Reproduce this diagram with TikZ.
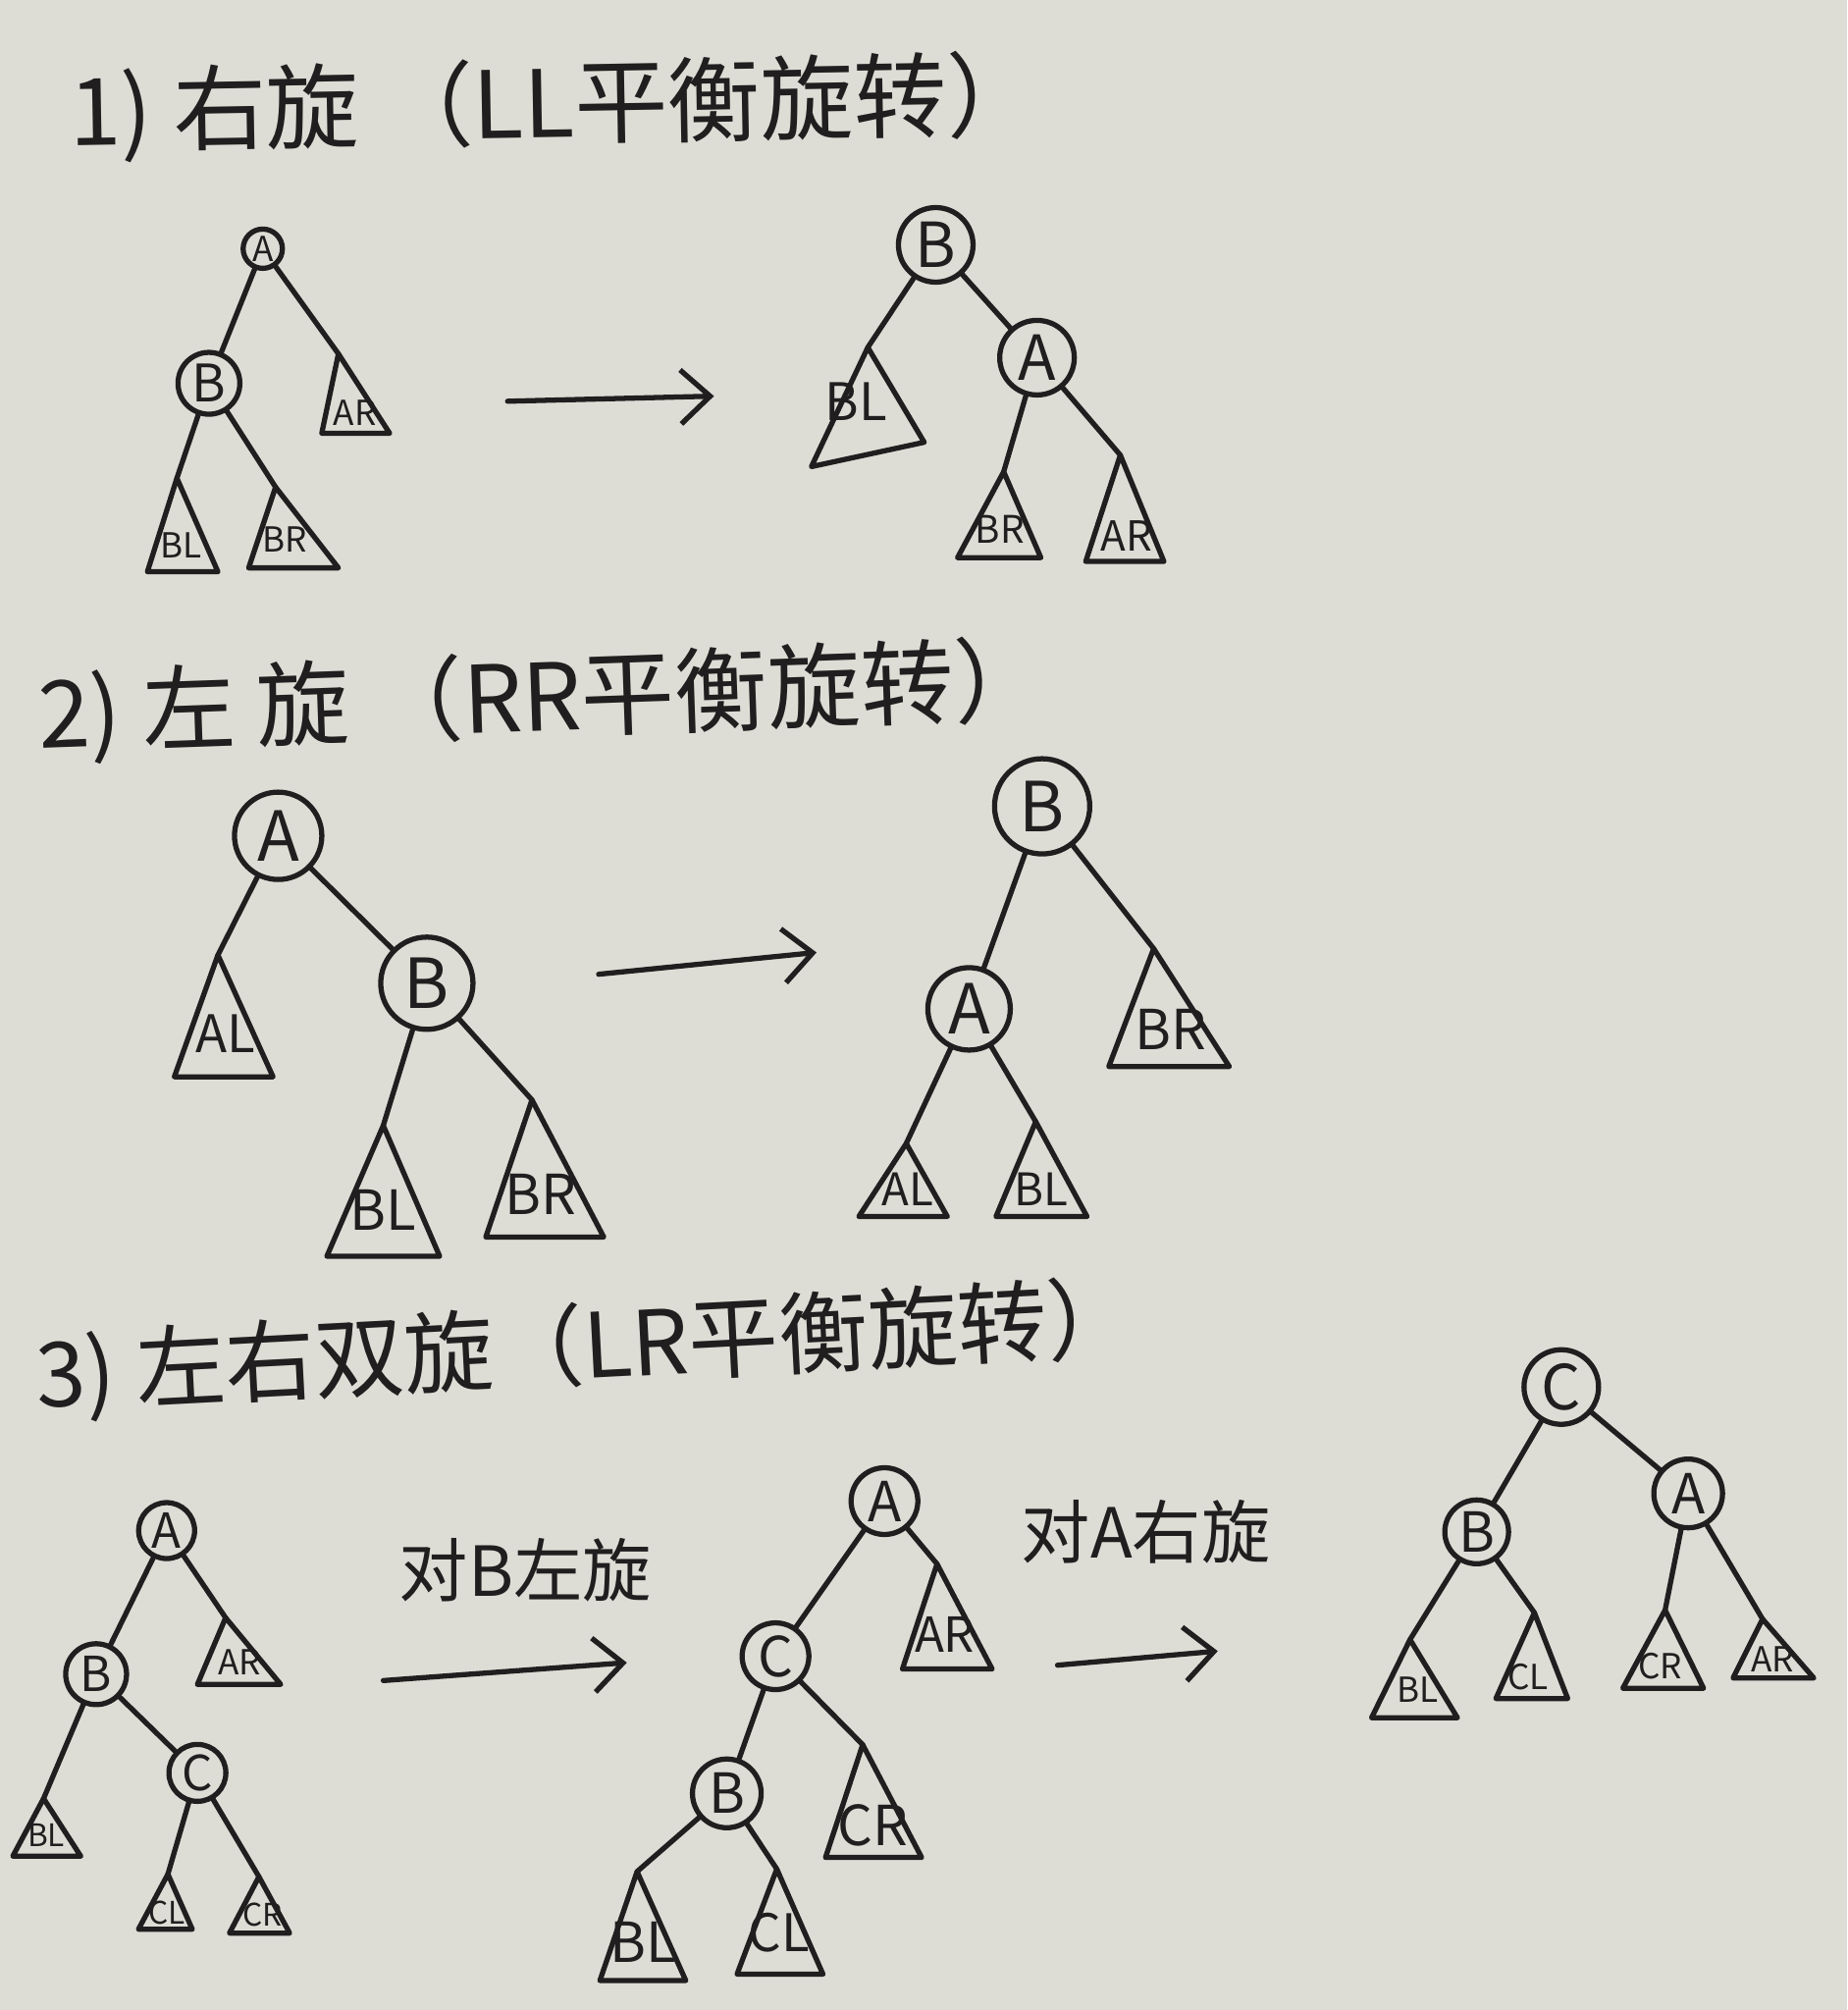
\documentclass[tikz,border=0pt]{standalone}
\usepackage{fontspec}
\newfontfamily\cjk{Noto Sans CJK SC}
\usetikzlibrary{arrows.meta}
\definecolor{paper}{RGB}{221,221,214}
\definecolor{ink}{RGB}{32,30,30}

\begin{document}
\begin{tikzpicture}[x=0.01306cm, y=-0.01306cm, line width=1.5pt, color=ink, font=\cjk,
  vtx/.style={circle, draw, inner sep=0pt, minimum size=#1, font=\cjk\fontsize{18}{18}\selectfont},
  vtx/.default=0.72cm,
  lbl/.style={inner sep=0pt, font=\cjk\fontsize{#1}{#1}\selectfont},
  lbl/.default=12,
  sub/.style={line join=round},
  edge/.style={line cap=round},
  arr/.style={line cap=round, -{Straight Barb[length=0.3cm, width=0.55cm]}},
  ttl/.style={anchor=west, inner sep=0pt, font=\cjk\fontsize{27}{27}\selectfont},
  note/.style={inner sep=0pt, font=\cjk\fontsize{20}{20}\selectfont}]

  % Paper
  \useasboundingbox (0,0) rectangle (1441,1568);
  \fill[paper] (0,0) rectangle (1441,1568);

  % Headings
  \node[ttl, rotate=1] (t1) at (52,90) {1)~右旋~（LL平衡旋转）};
  \node[ttl, rotate=2] (t2) at (28,560) {2)~左~旋~（RR平衡旋转）};
  \node[ttl, rotate=3, font=\cjk\fontsize{26}{26}\selectfont] (t3) at (26,1075) {3)~左右双旋（LR平衡旋转）};

  % ---- 1) before
  \node[vtx=0.4cm, font=\cjk\fontsize{10}{10}\selectfont] (aA) at (205,194) {A};
  \node[vtx=0.63cm, font=\cjk\fontsize{15}{15}\selectfont] (aB) at (163,299) {B};
  \coordinate (aAR) at (264,276);
  \coordinate (aBL) at (138,373);
  \coordinate (aBR) at (215,380);
  \draw[sub] (aAR) -- (251,338) -- (304,338) -- cycle;
  \draw[sub] (aBL) -- (115,446) -- (170,446) -- cycle;
  \draw[sub] (aBR) -- (194,443) -- (264,443) -- cycle;
  \node[lbl=10] (aARl) at (277,322) {AR};
  \node[lbl=10] (aBLl) at (141,425) {BL};
  \node[lbl=10] (aBRl) at (222,421) {BR};
  \draw[edge] (aA) -- (aB);
  \draw[edge] (aA) -- (aAR);
  \draw[edge] (aB) -- (aBL);
  \draw[edge] (aB) -- (aBR);

  % arrow
  \coordinate (p1) at (396,313);
  \coordinate (q1) at (557,309);
  \draw[arr] (p1) -- (q1);

  % ---- 1) after
  \node[vtx=0.76cm] (bB) at (730,191) {B};
  \node[vtx=0.76cm] (bA) at (809,279) {A};
  \coordinate (bBL) at (677,271);
  \coordinate (bBR) at (783,368);
  \coordinate (bAR) at (874,355);
  \draw[sub] (bBL) -- (633,364) -- (721,345) -- cycle;
  \draw[sub] (bBR) -- (747,435) -- (812,435) -- cycle;
  \draw[sub] (bAR) -- (847,438) -- (908,438) -- cycle;
  \node[lbl=15] (bBLl) at (668,313) {BL};
  \node[lbl=11] (bBRl) at (780,413) {BR};
  \node[lbl=12] (bARl) at (879,418) {AR};
  \draw[edge] (bB) -- (bBL);
  \draw[edge] (bB) -- (bA);
  \draw[edge] (bA) -- (bBR);
  \draw[edge] (bA) -- (bAR);

  % ---- 2) before
  \node[vtx=0.89cm, font=\cjk\fontsize{20}{20}\selectfont] (cA) at (217,652) {A};
  \node[vtx=0.94cm, font=\cjk\fontsize{20}{20}\selectfont] (cB) at (333,767) {B};
  \coordinate (cAL) at (170,745);
  \coordinate (cBL) at (299,878);
  \coordinate (cBR) at (415,858);
  \draw[sub] (cAL) -- (136,840) -- (213,840) -- cycle;
  \draw[sub] (cBL) -- (255,980) -- (343,980) -- cycle;
  \draw[sub] (cBR) -- (379,965) -- (471,965) -- cycle;
  \node[lbl=15] (cALl) at (176,806) {AL};
  \node[lbl=16] (cBLl) at (299,944) {BL};
  \node[lbl=16] (cBRl) at (422,932) {BR};
  \draw[edge] (cA) -- (cAL);
  \draw[edge] (cA) -- (cB);
  \draw[edge] (cB) -- (cBL);
  \draw[edge] (cB) -- (cBR);

  % arrow
  \coordinate (p2) at (467,760);
  \coordinate (q2) at (637,743);
  \draw[arr] (p2) -- (q2);

  % ---- 2) after
  \node[vtx=0.97cm, font=\cjk\fontsize{20}{20}\selectfont] (dB) at (813,629) {B};
  \node[vtx=0.84cm, font=\cjk\fontsize{20}{20}\selectfont] (dA) at (756,787) {A};
  \coordinate (dBR) at (900,740);
  \coordinate (dAL) at (707,892);
  \coordinate (dBL) at (808,875);
  \draw[sub] (dBR) -- (865,832) -- (959,832) -- cycle;
  \draw[sub] (dAL) -- (670,949) -- (739,949) -- cycle;
  \draw[sub] (dBL) -- (777,949) -- (848,949) -- cycle;
  \node[lbl=16] (dBRl) at (913,803) {BR};
  \node[lbl=13] (dALl) at (708,928) {AL};
  \node[lbl=13] (dBLl) at (812,928) {BL};
  \draw[edge] (dB) -- (dA);
  \draw[edge] (dB) -- (dBR);
  \draw[edge] (dA) -- (dAL);
  \draw[edge] (dA) -- (dBL);

  % ---- 3) start
  \node[vtx=0.57cm, font=\cjk\fontsize{14}{14}\selectfont] (eA) at (130,1194) {A};
  \node[vtx=0.62cm, font=\cjk\fontsize{14}{14}\selectfont] (eB) at (75,1306) {B};
  \node[vtx=0.58cm, font=\cjk\fontsize{14}{14}\selectfont] (eC) at (154,1383) {C};
  \coordinate (eAR) at (176,1262);
  \coordinate (eBL) at (34,1403);
  \coordinate (eCL) at (131,1462);
  \coordinate (eCR) at (202,1464);
  \draw[sub] (eAR) -- (154,1314) -- (219,1314) -- cycle;
  \draw[sub] (eBL) -- (10,1448) -- (63,1448) -- cycle;
  \draw[sub] (eCL) -- (108,1505) -- (150,1505) -- cycle;
  \draw[sub] (eCR) -- (179,1508) -- (226,1508) -- cycle;
  \node[lbl=10] (eARl) at (187,1297) {AR};
  \node[lbl=9] (eBLl) at (36,1432) {BL};
  \node[lbl=9] (eCLl) at (130,1492) {CL};
  \node[lbl=9] (eCRl) at (205,1494) {CR};
  \draw[edge] (eA) -- (eB);
  \draw[edge] (eA) -- (eAR);
  \draw[edge] (eB) -- (eBL);
  \draw[edge] (eB) -- (eC);
  \draw[edge] (eC) -- (eCL);
  \draw[edge] (eC) -- (eCR);

  % arrow
  \coordinate (p3) at (299,1311);
  \coordinate (q3) at (489,1297);
  \draw[arr] (p3) -- (q3);
  \node[note] (n3) at (410,1225) {对B左旋};

  % ---- 3) middle
  \node[vtx=0.68cm, font=\cjk\fontsize{16}{16}\selectfont] (fA) at (690,1171) {A};
  \node[vtx=0.68cm, font=\cjk\fontsize{16}{16}\selectfont] (fC) at (605,1292) {C};
  \node[vtx=0.7cm, font=\cjk\fontsize{16}{16}\selectfont] (fB) at (567,1399) {B};
  \coordinate (fAR) at (731,1220);
  \coordinate (fCR) at (673,1361);
  \coordinate (fBL) at (497,1460);
  \coordinate (fCL) at (606,1458);
  \draw[sub] (fAR) -- (704,1302) -- (774,1302) -- cycle;
  \draw[sub] (fCR) -- (644,1449) -- (719,1449) -- cycle;
  \draw[sub] (fBL) -- (468,1545) -- (535,1545) -- cycle;
  \draw[sub] (fCL) -- (575,1540) -- (642,1540) -- cycle;
  \node[lbl=14] (fARl) at (737,1275) {AR};
  \node[lbl=16] (fCRl) at (681,1424) {CR};
  \node[lbl=16] (fBLl) at (502,1515) {BL};
  \node[lbl=15] (fCLl) at (608,1508) {CL};
  \draw[edge] (fA) -- (fC);
  \draw[edge] (fA) -- (fAR);
  \draw[edge] (fC) -- (fB);
  \draw[edge] (fC) -- (fCR);
  \draw[edge] (fB) -- (fBL);
  \draw[edge] (fB) -- (fCL);

  % arrow
  \coordinate (p4) at (825,1299);
  \coordinate (q4) at (950,1288);
  \draw[arr] (p4) -- (q4);
  \node[note] (n4) at (894,1195) {对A右旋};

  % ---- 3) end
  \node[vtx=0.76cm] (gC) at (1218,1082) {C};
  \node[vtx=0.65cm, font=\cjk\fontsize{16}{16}\selectfont] (gB) at (1152,1195) {B};
  \node[vtx=0.7cm, font=\cjk\fontsize{16}{16}\selectfont] (gA) at (1317,1165) {A};
  \coordinate (gBL) at (1100,1279);
  \coordinate (gCL) at (1197,1258);
  \coordinate (gCR) at (1299,1256);
  \coordinate (gAR) at (1375,1263);
  \draw[sub] (gBL) -- (1070,1340) -- (1137,1340) -- cycle;
  \draw[sub] (gCL) -- (1167,1325) -- (1223,1325) -- cycle;
  \draw[sub] (gCR) -- (1266,1317) -- (1329,1317) -- cycle;
  \draw[sub] (gAR) -- (1352,1309) -- (1415,1309) -- cycle;
  \node[lbl=10] (gBLl) at (1106,1318) {BL};
  \node[lbl=10] (gCLl) at (1192,1308) {CL};
  \node[lbl=10] (gCRl) at (1295,1300) {CR};
  \node[lbl=10] (gARl) at (1383,1294) {AR};
  \draw[edge] (gC) -- (gB);
  \draw[edge] (gC) -- (gA);
  \draw[edge] (gB) -- (gBL);
  \draw[edge] (gB) -- (gCL);
  \draw[edge] (gA) -- (gCR);
  \draw[edge] (gA) -- (gAR);

\end{tikzpicture}
\end{document}
